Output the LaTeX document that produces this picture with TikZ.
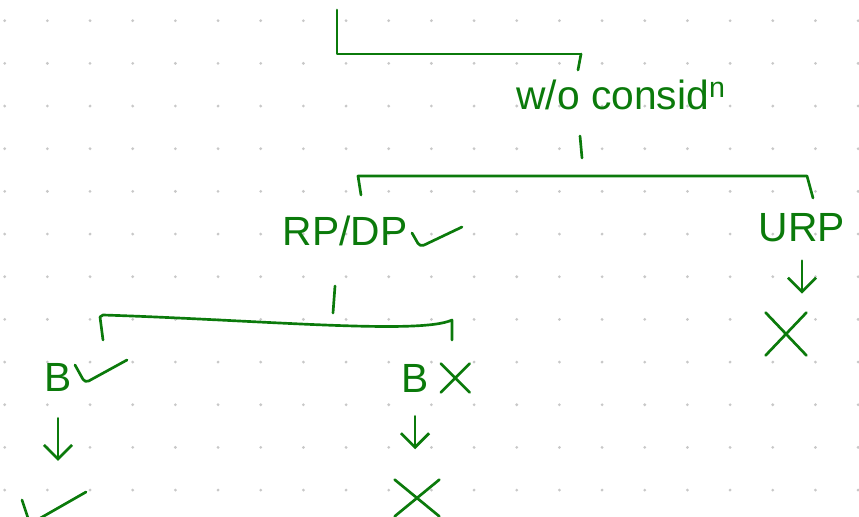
\documentclass[tikz,border=0pt]{standalone}
\usepackage{fontspec}
\setmainfont{Liberation Sans}
\usetikzlibrary{arrows.meta, positioning, shapes.misc}
\definecolor{inkGreen}{HTML}{0B7A0B}
\definecolor{gridDot}{HTML}{C8C8C8}

\begin{document}
\begin{tikzpicture}[
    x=0.025cm, y=-0.025cm,
    ink/.style={draw=inkGreen, line width=1.9pt, line cap=round, line join=round},
    hand/.style={font=\fontsize{29}{34}\selectfont, text=inkGreen, inner sep=0pt, anchor=base},
    cross/.style={cross out, draw=inkGreen, line width=1.9pt, line cap=round, inner sep=0pt},
    arrow/.style={ink, -{Straight Barb[length=10pt, width=20pt]}},
]
    \useasboundingbox (0,0) rectangle (859,517);

    % Dot grid
    \foreach \i in {0,...,20}
        \foreach \j in {0,...,11}
            \fill[gridDot] ({4.7+42.67*\i},{20.7+42.67*\j}) circle[radius=1.1pt];

    % Labels
    \node[hand] (wo) at (621,110) {w/o consid\textsuperscript{n}};
    \node[hand] (rpdp) at (345,246) {RP/DP};
    \node[hand] (urp) at (802,242) {URP};
    \node[hand] (bl) at (58,391) {B};
    \node[hand] (br) at (415,392) {B};

    % Crosses
    \node[cross, minimum width=0.95cm, minimum height=1cm] (urpx) at (786,334) {};
    \node[cross, minimum width=0.65cm, minimum height=0.65cm, right=0.3cm of br] (brmark) {};
    \node[cross, minimum width=1.05cm, minimum height=0.85cm] (brx) at (417,498) {};

    % Ticks
    \draw[ink, rounded corners=3pt] (412,233) -- (420,247) -- (462,227);
    \draw[ink, rounded corners=3pt] (75,365) -- (85,383) -- (127,360);
    \coordinate (blok) at (22,500);
    \draw[ink, rounded corners=3pt] (blok) -- (30,524) -- (86,492);

    % Top branch
    \coordinate (root) at (337,10);
    \coordinate (top) at (581,54);
    \draw[ink] (root) |- (top);
    \draw[ink] (top) -- ++(-3,16);

    % First split
    \coordinate (s1) at (580,136);
    \draw[ink] (s1) -- ++(2,22);
    \draw[ink] (361,195) -- (358,176) -- (807,176) -- (813,198);

    % Second split
    \coordinate (s2) at (335,286);
    \draw[ink] (s2) -- ++(-2,27);
    \draw[ink] (103,340) -- (100,317) -- (103,315)
        .. controls (260,320) and (420,335) .. (452,320) -- (452,340);

    % Arrows
    \draw[arrow, shorten <=0.45cm, shorten >=0.475cm] (urp.south) -- (urp.south |- urpx.north);
    \draw[arrow, shorten <=0.675cm, shorten >=0.975cm] (bl.south) -- (bl.south |- blok);
    \draw[arrow, shorten <=0.6cm, shorten >=0.76cm] (br.south) -- (br.south |- brx.north);
\end{tikzpicture}
\end{document}
